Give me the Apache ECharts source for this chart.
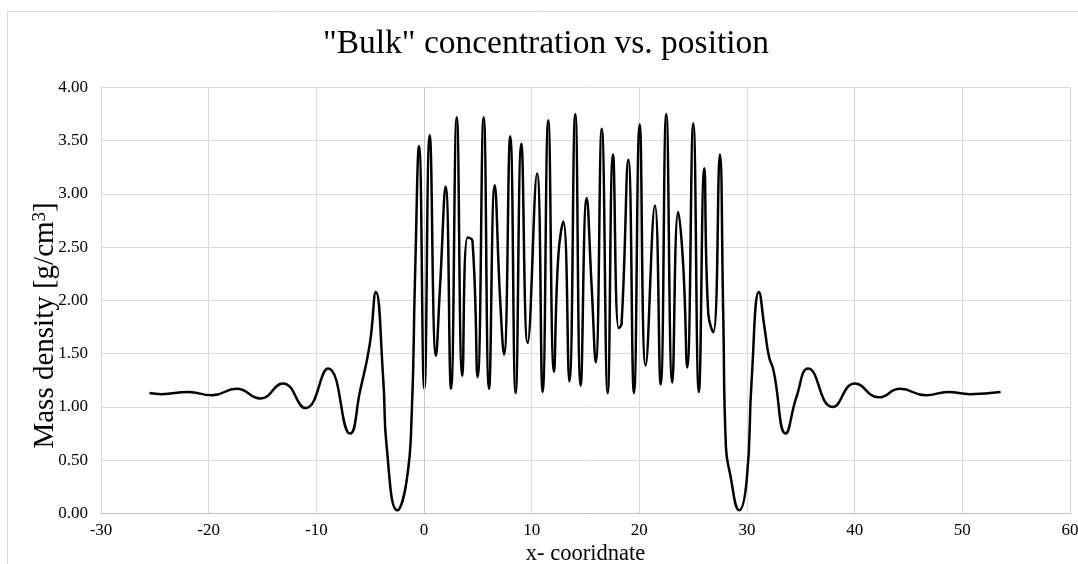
<!DOCTYPE html>
<html>
<head>
<meta charset="utf-8">
<script src="https://cdn.jsdelivr.net/npm/echarts@6/dist/echarts.min.js"></script>
<style>
  html, body { margin: 0; padding: 0; background: #fff; }
  #chart { width: 1078px; height: 564px; }
</style>
</head>
<body>
<div id="chart"></div>
<script>
// Position along the cell (x) and the bulk mass density at each point
const xPos = [
  -25.5, -24.4, -21.9, -19.7, -17.4, -15.2, -13.1, -11.0, -8.9, -6.87,
  -5.94, -5.05, -4.47, -3.78, -3.47, -2.48, -1.61, -1.14, -0.84, -0.46,
  0.03, 0.53, 1.11, 1.49, 2.01, 2.51, 3.04, 3.56, 4.05, 4.50,
  4.98, 5.54, 6.04, 6.57, 7.06, 7.43, 8.01, 8.51, 9.04, 9.63,
  10.50, 11.02, 11.54, 12.07, 12.47, 12.94, 13.50, 14.05, 14.55, 15.11,
  15.57, 15.95, 16.51, 17.06, 17.55, 18.08, 18.35, 18.98, 19.50, 20.03,
  20.59, 21.45, 21.98, 22.50, 23.06, 23.61, 24.08, 24.45, 25.01, 25.53,
  26.03, 26.40, 26.87, 27.48, 27.79, 28.04, 28.41, 29.28, 29.97, 30.43,
  31.11, 31.66, 32.05, 32.47, 33.59, 34.61, 35.69, 37.95, 40.02, 42.25,
  44.2, 46.6, 48.68, 50.7, 53.55
];
const density = [
  1.13, 1.12, 1.14, 1.11, 1.17, 1.08, 1.22, 0.99, 1.36, 0.75,
  1.15, 1.58, 2.08, 1.25, 0.63, 0.03, 0.31, 0.94, 2.19, 3.45,
  1.17, 3.55, 1.48, 2.13, 3.07, 1.17, 3.72, 1.29, 2.59, 2.56,
  1.28, 3.72, 1.17, 3.08, 2.03, 1.49, 3.54, 1.13, 3.47, 1.60,
  3.19, 1.14, 3.69, 1.33, 2.41, 2.74, 1.24, 3.75, 1.20, 2.96,
  2.13, 1.42, 3.61, 1.13, 3.37, 1.74, 1.78, 3.32, 1.13, 3.65,
  1.39, 2.89, 1.21, 3.75, 1.23, 2.83, 2.32, 1.37, 3.66, 1.14,
  3.24, 1.88, 1.70, 3.37, 1.88, 0.63, 0.38, 0.03, 0.31, 1.25,
  2.08, 1.72, 1.47, 1.34, 0.75, 1.10, 1.36, 1.00, 1.22, 1.09,
  1.17, 1.11, 1.14, 1.12, 1.14
];

const chartTitle = '"Bulk" concentration vs. position';
const xName = 'x- cooridnate';
// unit exponent is drawn as a raised, smaller "3"
const yName = 'Mass density [g/cm{sup|3}]';

const serif = "'Liberation Serif', 'Times New Roman', serif";
const gridColor = '#d9d9d9';

const chart = echarts.init(document.getElementById('chart'), null, { renderer: 'canvas' });

chart.setOption({
  backgroundColor: '#ffffff',
  animation: false,
  title: {
    text: chartTitle,
    left: 323,
    top: 27,
    padding: 0,
    textStyle: { fontFamily: serif, fontSize: 33.5, fontWeight: 'normal', color: '#000' }
  },
  graphic: [{
    type: 'rect',
    silent: true,
    shape: { x: 7.5, y: 11.5, width: 1200, height: 1000 },
    style: { fill: 'none', stroke: gridColor, lineWidth: 1 }
  }],
  grid: {
    left: 101, right: 8, top: 87.3, bottom: 50.5,
    containLabel: false,
    outerBoundsMode: 'none'
  },
  xAxis: {
    type: 'value',
    min: -30, max: 60, interval: 10,
    name: xName,
    nameLocation: 'middle',
    nameGap: 29.5,
    nameMoveOverlap: false,
    nameTextStyle: { fontFamily: serif, fontSize: 22.5, color: '#000' },
    axisLine: { show: true, onZero: false, lineStyle: { color: '#bfbfbf', width: 1 } },
    axisTick: { show: false },
    axisLabel: { fontFamily: serif, fontSize: 17, color: '#000', margin: 8.5 },
    splitLine: { show: true, lineStyle: { color: gridColor, width: 1 } }
  },
  yAxis: {
    type: 'value',
    min: 0, max: 4, interval: 0.5,
    name: yName,
    nameLocation: 'middle',
    nameRotate: 90,
    nameGap: 41,
    nameMoveOverlap: false,
    nameTextStyle: {
      fontFamily: serif, fontSize: 29, color: '#000', padding: [0, 50, 0, 0],
      rich: {
        sup: { fontFamily: serif, fontSize: 19, color: '#000', verticalAlign: 'top', lineHeight: 29 }
      }
    },
    axisLine: { show: false },
    axisTick: { show: false },
    axisLabel: { fontFamily: serif, fontSize: 17, color: '#000', margin: 13,
      formatter: v => v.toFixed(2) },
    splitLine: { show: true, lineStyle: { color: gridColor, width: 1 } }
  },
  series: [{
    type: 'line',
    data: xPos.map((x, i) => [x, density[i]]),
    showSymbol: false,
    smooth: 0.5,
    lineStyle: { color: '#000', width: 2.5 },
    markLine: {
      silent: true,
      symbol: 'none',
      label: { show: false },
      lineStyle: { color: '#c8c8c8', width: 1, type: 'solid' },
      data: [{ xAxis: 0 }]
    },
    z: 3
  }]
});
</script>
</body>
</html>
